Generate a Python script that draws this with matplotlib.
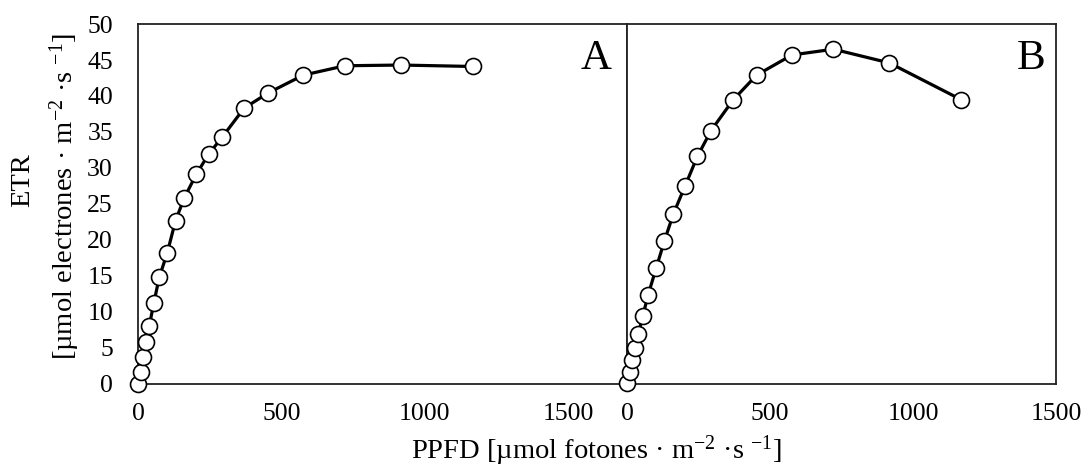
import matplotlib
matplotlib.use('Agg')
import matplotlib.pyplot as plt

# Times-like look
plt.rcParams['font.family'] = 'serif'
plt.rcParams['font.serif'] = ['Liberation Serif', 'DejaVu Serif']
plt.rcParams['mathtext.fontset'] = 'custom'
plt.rcParams['mathtext.rm'] = 'Liberation Serif'
plt.rcParams['mathtext.it'] = 'Liberation Serif:italic'

# PPFD values (same light steps for both curves)
ppfd = [0, 9, 17, 28, 39, 55, 74, 102, 131, 162, 203, 246, 294, 370, 453, 577, 722, 917, 1168]
# ETR values
etr_a = [0, 1.6, 3.8, 5.8, 8.0, 11.2, 14.8, 18.2, 22.7, 25.9, 29.1, 31.9, 34.3, 38.3, 40.4, 42.9, 44.2, 44.3, 44.1]
etr_b = [0.1, 1.7, 3.4, 5.0, 6.9, 9.4, 12.4, 16.1, 19.9, 23.6, 27.5, 31.6, 35.2, 39.4, 42.9, 45.7, 46.5, 44.6, 39.5]

x_ticks = [0, 500, 1000, 1500]
y_ticks = list(range(0, 51, 5))

fig = plt.figure(figsize=(10.85, 4.70), dpi=100)
ax_a = fig.add_axes([138 / 1085, 86 / 470, 489 / 1085, 360 / 470])
ax_b = fig.add_axes([627 / 1085, 86 / 470, 429 / 1085, 360 / 470])

for ax, etr, xmax, tag, tx in [(ax_a, etr_a, 1706, 'A', 0.968), (ax_b, etr_b, 1500, 'B', 0.975)]:
    ax.plot(ppfd, etr, color='black', lw=2.3, marker='o', ms=11.5,
            mfc='white', mec='black', mew=1.2, clip_on=False, zorder=3)
    ax.set_xlim(0, xmax)
    ax.set_ylim(0, 50)
    ax.set_xticks(x_ticks)
    ax.set_yticks(y_ticks)
    ax.tick_params(length=0, labelsize=18.5, pad=14)
    ax.tick_params(axis='y', pad=18)
    for s in ax.spines.values():
        s.set_linewidth(1.3)
        s.set_color('#222222')
    ax.text(tx, 0.875, tag, transform=ax.transAxes, ha='right', va='baseline', fontsize=31)

ax_b.tick_params(axis='y', labelleft=False)

fig.text(0.550, 0.024, r'PPFD [µmol fotones · m$^{-2}$ ·s $^{-1}$]', ha='center', va='baseline', fontsize=20.5)
fig.text(0.0212, 0.617, 'ETR', rotation=90, ha='center', va='center', fontsize=20.5)
fig.text(0.0599, 0.583, r'[µmol electrones · m$^{-2}$ ·s $^{-1}$]', rotation=90, ha='center', va='center', fontsize=20.5)

fig.savefig('out.png', dpi=100)
